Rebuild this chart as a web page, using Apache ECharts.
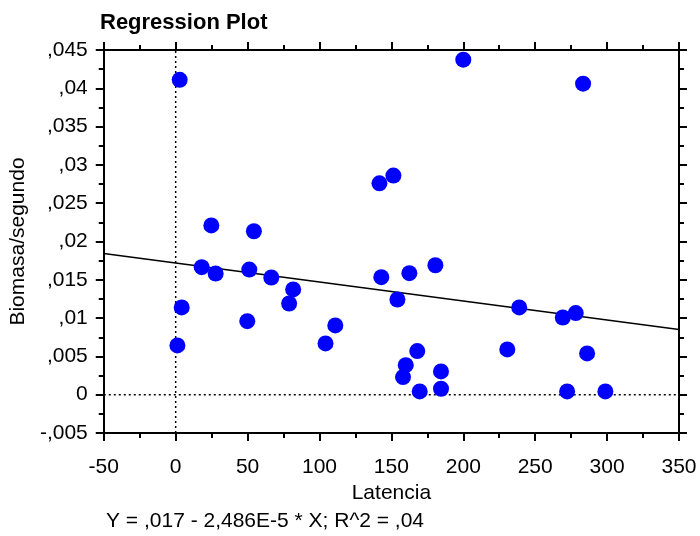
<!DOCTYPE html>
<html>
<head>
<meta charset="utf-8">
<script src="https://cdn.jsdelivr.net/npm/echarts@6/dist/echarts.min.js"></script>
<style>html,body{margin:0;padding:0;background:#fff;}#c{width:700px;height:536px;}</style>
</head>
<body>
<div id="c"></div>
<script>
const latencia = [2.8, 24.8, 54.4, 200, 283.3, 141.7, 151.4, 18.1, 27.8, 51.2, 66.5, 81.7, 78.9, 4.2, 49.8, 111, 104.2, 1.2,
  143, 162.5, 180.6, 154.2, 238.9, 269.2, 278.2, 168, 160, 158.1, 169.7, 184.5, 184.5, 230.6, 286.1, 272.2, 298.8];
const biomasa = [0.0411, 0.0221, 0.02134, 0.04374, 0.0406, 0.0276, 0.0286, 0.01665, 0.01582, 0.01634, 0.0153, 0.01374, 0.01191, 0.01139, 0.0096, 0.00904, 0.00669, 0.00643,
  0.01534, 0.01586, 0.0169, 0.01243, 0.01139, 0.01008, 0.01065, 0.00569, 0.00386, 0.0023, 0.00043, 0.00304, 0.00078, 0.00591, 0.00539, 0.00043, 0.00043];
const intercept = 0.0172;
const slope = -2.48e-5;
const xRange = [-50, 350];
const yRange = [-0.005, 0.045];
const titleText = 'Regression Plot';
const xName = 'Latencia';
const yName = 'Biomasa/segundo';
const equation = 'Y = ,017 - 2,486E-5 * X; R^2 = ,04';

const font = '"Liberation Sans", Arial, sans-serif';
function fmt(v) {
  let s = Math.abs(v).toFixed(3).replace(/0+$/, '').replace(/\.$/, '');
  if (s === '0') return '0';
  s = s.replace(/^0\./, ',').replace('.', ',');
  return (v < 0 ? '-' : '') + s;
}
const points = latencia.map((x, i) => [x, biomasa[i]]);
const regLine = xRange.map(x => [x, intercept + slope * x]);

const axisLine = { show: true, onZero: false, lineStyle: { color: '#000', width: 2 } };
const tickCommon = { show: true, inside: false, length: 8, lineStyle: { color: '#000', width: 2 } };
const minorCommon = { show: true, splitNumber: 2, length: 5, lineStyle: { color: '#000', width: 2 } };

const chart = echarts.init(document.getElementById('c'), null, { renderer: 'canvas' });
chart.setOption({
  animation: false,
  backgroundColor: '#fff',
  textStyle: { fontFamily: font },
  title: {
    text: titleText, left: 100, top: 12, padding: 0,
    textStyle: { fontFamily: font, fontSize: 22, fontWeight: 'bold', color: '#000' }
  },
  graphic: [{
    type: 'text', left: 106, top: 511,
    style: { text: equation, fontFamily: font, fontSize: 21, fill: '#000' }
  }],
  grid: { left: 103, right: 21, top: 50, bottom: 103, containLabel: false },
  xAxis: [{
    type: 'value', position: 'bottom', min: xRange[0], max: xRange[1], interval: 50,
    name: xName, nameLocation: 'middle', nameGap: 49,
    nameTextStyle: { fontFamily: font, fontSize: 21, color: '#000' },
    axisLine, axisTick: tickCommon, minorTick: minorCommon,
    axisLabel: { fontFamily: font, fontSize: 21, color: '#000', margin: 24 },
    splitLine: { show: false }
  }, {
    type: 'value', position: 'top', min: xRange[0], max: xRange[1], interval: 50,
    axisLine, axisTick: tickCommon, minorTick: minorCommon,
    axisLabel: { show: false }, splitLine: { show: false }
  }],
  yAxis: [{
    type: 'value', position: 'left', min: yRange[0], max: yRange[1], interval: 0.005,
    name: yName, nameLocation: 'middle', nameGap: 74, nameRotate: 90,
    nameTextStyle: { fontFamily: font, fontSize: 21, color: '#000' },
    axisLine, axisTick: tickCommon, minorTick: minorCommon,
    axisLabel: { fontFamily: font, fontSize: 21, color: '#000', margin: 16, formatter: fmt, padding: [6, 0, 0, 0] },
    splitLine: { show: false }
  }, {
    type: 'value', position: 'right', min: yRange[0], max: yRange[1], interval: 0.005,
    axisLine, axisTick: tickCommon, minorTick: minorCommon,
    axisLabel: { show: false }, splitLine: { show: false }
  }],
  series: [{
    type: 'line', data: [[0, yRange[0]], [0, yRange[1]]], symbol: 'none', silent: true,
    lineStyle: { color: '#000', width: 1.5, type: [2, 3] }, z: 1
  }, {
    type: 'line', data: [[xRange[0], 0], [xRange[1], 0]], symbol: 'none', silent: true,
    lineStyle: { color: '#000', width: 1.5, type: [2, 3] }, z: 1
  }, {
    type: 'line', data: regLine, symbol: 'none', silent: true,
    lineStyle: { color: '#000', width: 1.5 }, z: 2
  }, {
    type: 'scatter', data: points, symbol: 'circle', symbolSize: 16,
    itemStyle: { color: '#0000ff', opacity: 1 }, z: 3
  }]
});
</script>
</body>
</html>
